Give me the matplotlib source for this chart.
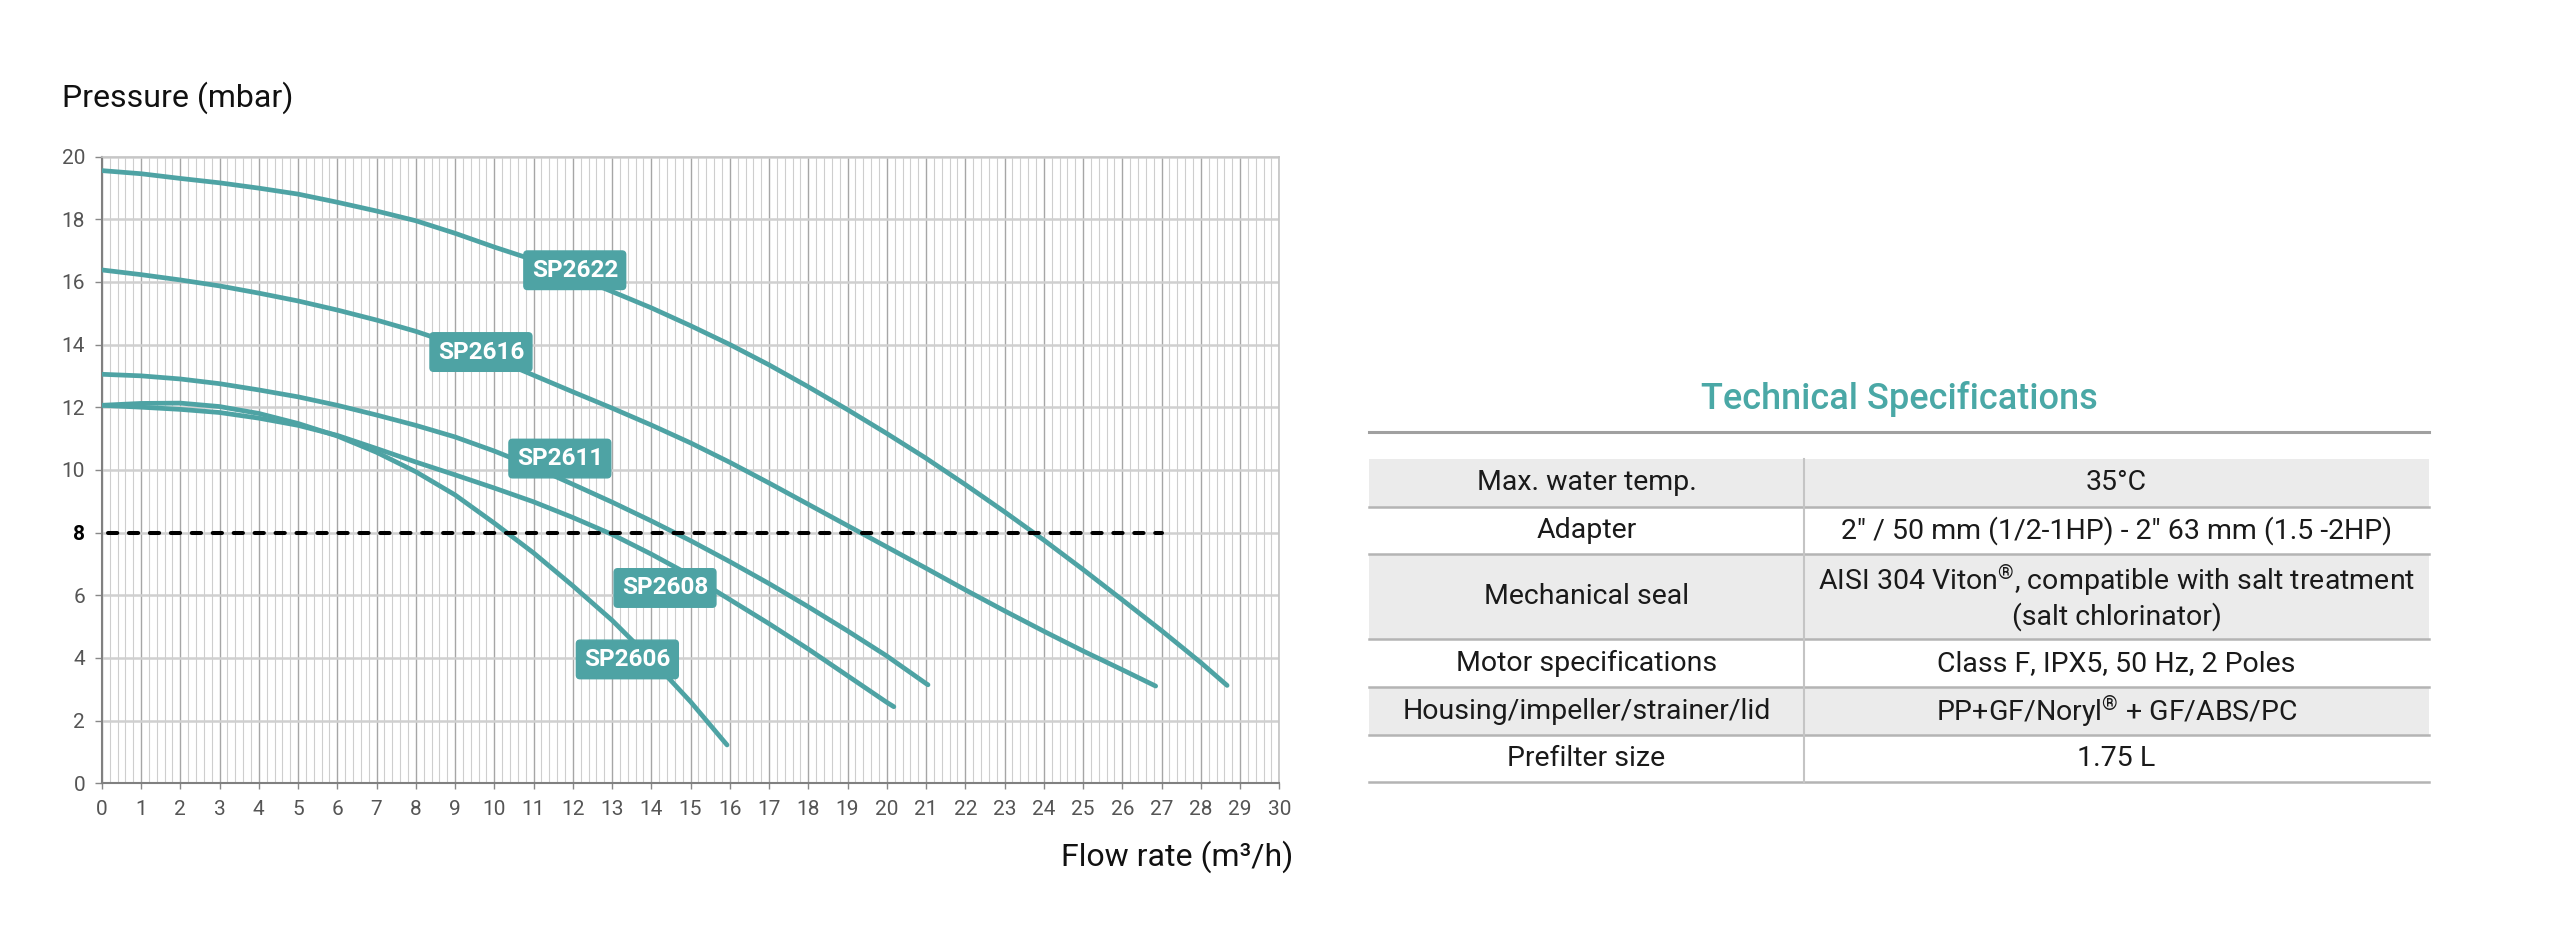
import matplotlib
matplotlib.use('Agg')
import matplotlib.pyplot as plt
from matplotlib.ticker import MultipleLocator

plt.rcParams['font.family'] = ['Roboto', 'DejaVu Sans']
plt.rcParams['mathtext.fontset'] = 'custom'
plt.rcParams['mathtext.rm'] = 'Roboto'
plt.rcParams['mathtext.default'] = 'rm'

# pump curves: flow rate (m3/h) -> pressure (mbar)
sp2622_x = [0, 1, 2, 3, 4, 5, 6, 7, 8, 9, 10, 11, 12, 13, 14, 15, 16, 17, 18, 19, 20, 21, 22, 23, 24, 25, 26, 27, 28, 28.67]
sp2622_y = [19.55, 19.45, 19.3, 19.16, 18.99, 18.8, 18.54, 18.26, 17.95, 17.55, 17.11, 16.7, 16.2, 15.69, 15.17,
            14.6, 14.0, 13.35, 12.65, 11.92, 11.16, 10.37, 9.53, 8.66, 7.76, 6.82, 5.85, 4.87, 3.85, 3.12]
sp2616_x = [0, 1, 2, 3, 4, 5, 6, 7, 8, 9, 10, 11, 12, 13, 14, 15, 16, 17, 18, 19, 20, 21, 22, 23, 24, 25, 26, 26.85]
sp2616_y = [16.38, 16.23, 16.06, 15.87, 15.64, 15.39, 15.1, 14.78, 14.42, 14.0, 13.55, 13.02, 12.49, 11.97, 11.43,
            10.86, 10.24, 9.58, 8.9, 8.22, 7.54, 6.86, 6.17, 5.5, 4.85, 4.22, 3.62, 3.1]
sp2611_x = [0, 1, 2, 3, 4, 5, 6, 7, 8, 9, 10, 11, 12, 13, 14, 15, 16, 17, 18, 19, 20, 21, 21.05]
sp2611_y = [13.05, 13.0, 12.9, 12.75, 12.55, 12.33, 12.06, 11.75, 11.42, 11.05, 10.6, 10.1, 9.54, 8.97, 8.37,
            7.74, 7.07, 6.37, 5.63, 4.86, 4.06, 3.18, 3.14]
sp2608_x = [0, 1, 2, 3, 4, 5, 6, 7, 8, 9, 10, 11, 12, 13, 14, 15, 16, 17, 18, 19, 20, 20.18]
sp2608_y = [12.06, 12.0, 11.93, 11.83, 11.65, 11.42, 11.1, 10.68, 10.25, 9.84, 9.42, 8.98, 8.48, 7.94, 7.31,
            6.63, 5.86, 5.09, 4.28, 3.43, 2.58, 2.44]
sp2606_x = [0, 1, 2, 3, 4, 5, 6, 7, 8, 9, 10, 11, 12, 13, 14, 15, 15.93]
sp2606_y = [12.06, 12.12, 12.13, 12.02, 11.8, 11.48, 11.08, 10.56, 9.94, 9.2, 8.3, 7.35, 6.3, 5.2, 3.95, 2.6, 1.22]

models = ['SP2622', 'SP2616', 'SP2611', 'SP2608', 'SP2606']
curves_x = [sp2622_x, sp2616_x, sp2611_x, sp2608_x, sp2606_x]
curves_y = [sp2622_y, sp2616_y, sp2611_y, sp2608_y, sp2606_y]
tag_x = [12.05, 9.66, 11.67, 14.35, 13.39]
tag_y = [16.37, 13.76, 10.36, 6.23, 3.95]

ref_pressure = 8
ref_x = [0.15, 27]

x_ticks = list(range(0, 31))
y_ticks = list(range(0, 21, 2))

spec_keys = ['Max. water temp.', 'Adapter', 'Mechanical seal', 'Motor specifications',
             'Housing/impeller/strainer/lid', 'Prefilter size']
spec_vals = ['35°C', '2" / 50 mm (1/2-1HP) - 2" 63 mm (1.5 -2HP)',
             'AISI 304 Viton$^{®}$, compatible with salt treatment\n(salt chlorinator)',
             'Class F, IPX5, 50 Hz, 2 Poles', 'PP+GF/Noryl$^{®}$ + GF/ABS/PC', '1.75 L']

teal = '#4ea3a4'
W, H = 2560, 932
fig = plt.figure(figsize=(W / 100, H / 100), dpi=100)

# ---- chart ----
ax = fig.add_axes([101.8 / W, 148.8 / H, (1279.3 - 101.8) / W, (783.2 - 156.5) / H])
ax.set_xlim(0, 30)
ax.set_ylim(0, 20)
ax.xaxis.set_minor_locator(MultipleLocator(0.2))
ax.set_xticks(x_ticks, labels=[str(v) for v in x_ticks])
ax.set_yticks(y_ticks, labels=[str(v) for v in y_ticks])
ax.grid(which='minor', axis='x', color='#cecece', lw=0.8, zorder=0)
ax.grid(which='major', axis='x', color='#a6a6a6', lw=1.0, zorder=0)
ax.grid(which='major', axis='y', color='#d0d0d0', lw=1.8, zorder=0)
ax.set_axisbelow(True)
ax.tick_params(which='minor', length=0)
ax.tick_params(axis='x', which='major', length=4, width=1, color='#888', pad=8,
               labelsize=15, labelcolor='#555')
ax.tick_params(axis='y', which='major', length=5, width=1, color='#888', pad=7,
               labelsize=15, labelcolor='#555')
for lab in ax.get_yticklabels():
    if lab.get_text() == str(ref_pressure):
        lab.set_fontweight('bold')
        lab.set_color('black')
for s in ['left', 'bottom']:
    ax.spines[s].set_color('#808080')
    ax.spines[s].set_linewidth(1.5)
for s in ['top', 'right']:
    ax.spines[s].set_color('#c4c4c4')
    ax.spines[s].set_linewidth(1.2)

for xs, ys in zip(curves_x, curves_y):
    ax.plot(xs, ys, color=teal, lw=3.4, solid_capstyle='round', solid_joinstyle='round', zorder=3)

ax.plot(ref_x, [ref_pressure, ref_pressure], color='black', lw=2.9, dashes=(2.3, 2.9),
        dash_capstyle='round', zorder=4)

for name, tx, ty in zip(models, tag_x, tag_y):
    ax.text(tx, ty, name, ha='center', va='center', color='white', fontsize=17.5,
            fontweight='bold', zorder=6,
            bbox=dict(boxstyle='round,pad=0.32,rounding_size=0.15', fc=teal, ec=teal))

fig.text(62 / W, 1 - 98 / H, 'Pressure (mbar)', fontsize=23, color='#111', ha='left', va='center')
fig.text(1293 / W, 1 - 857 / H, 'Flow rate (m³/h)', fontsize=23, color='#111', ha='right', va='center')

# ---- specification table ----
tx0, tx1, tcol = 1369, 2429, 1804
row_edges = [459.3, 506.7, 554, 639.3, 687.3, 735, 782.3]
tab = fig.add_axes([0, 0, 1, 1])
tab.set_xlim(0, W)
tab.set_ylim(H, 0)
tab.axis('off')
tab.patch.set_alpha(0)

tab.text((tx0 + tx1) / 2, 399, 'Technical Specifications', color='#4aa8a6', fontsize=26,
         fontweight='medium', ha='center', va='center')
tab.plot([tx0, tx1], [431.7, 431.7], color='#a0a0a0', lw=2.2)

for i in range(len(spec_keys)):
    top, bot = row_edges[i], row_edges[i + 1]
    if i % 2 == 0:
        tab.add_patch(plt.Rectangle((tx0, top), tx1 - tx0, bot - top, fc='#ebebeb', ec='none'))
    tab.plot([tx0, tx1], [bot, bot], color='#b4b4b4', lw=1.8)
    mid = (top + bot) / 2
    tab.text((tx0 + tcol) / 2, mid, spec_keys[i], fontsize=20.5, color='#1a1a1a',
             ha='center', va='center')
    tab.text((tcol + tx1) / 2, mid, spec_vals[i], fontsize=20.5, color='#1a1a1a',
             ha='center', va='center', linespacing=1.2)
tab.plot([tcol, tcol], [row_edges[0], row_edges[-1]], color='#c4c4c4', lw=1.5)

fig.savefig('out.png', dpi=100)
